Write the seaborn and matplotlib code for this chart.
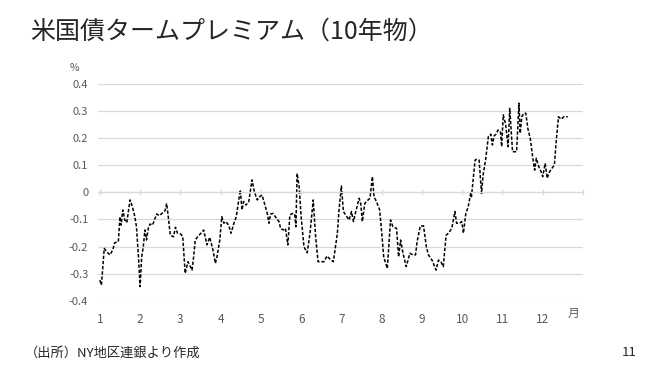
import matplotlib
matplotlib.use("Agg")
import matplotlib.pyplot as plt
import seaborn as sns
import pandas as pd

# ---- data ----
x_month = [
    1.00, 1.04, 1.11, 1.17, 1.25, 1.32, 1.37, 1.46, 1.50, 1.53, 1.57, 1.62, 1.67, 1.75, 1.81, 1.87,
    1.91, 1.96, 2.00, 2.04, 2.08, 2.12, 2.16, 2.21, 2.25, 2.31, 2.41, 2.48, 2.54, 2.62, 2.66, 2.70,
    2.75, 2.83, 2.88, 2.93, 3.01, 3.06, 3.12, 3.19, 3.29, 3.33, 3.37, 3.43, 3.51, 3.58, 3.66, 3.73,
    3.81, 3.87, 3.91, 3.98, 4.03, 4.08, 4.13, 4.20, 4.26, 4.33, 4.39, 4.45, 4.49, 4.53, 4.57, 4.63,
    4.70, 4.78, 4.84, 4.91, 4.97, 5.03, 5.09, 5.16, 5.20, 5.24, 5.30, 5.36, 5.45, 5.49, 5.56, 5.61,
    5.67, 5.72, 5.78, 5.84, 5.87, 5.90, 5.95, 6.00, 6.07, 6.15, 6.22, 6.30, 6.36, 6.42,
    6.49, 6.57, 6.64, 6.72, 6.80, 6.86, 6.90, 6.94, 7.00, 7.05, 7.11, 7.19, 7.25, 7.30, 7.35, 7.44,
    7.48, 7.52, 7.58, 7.64, 7.71, 7.77, 7.81, 7.87, 7.95, 8.01, 8.05, 8.14, 8.22, 8.28, 8.37, 8.42,
    8.47, 8.53, 8.61, 8.70, 8.78, 8.84, 8.88, 8.96, 9.04, 9.11, 9.16, 9.25, 9.35, 9.41, 9.47, 9.53,
    9.60, 9.66, 9.74, 9.82, 9.86, 9.93, 9.99, 10.03, 10.09, 10.15, 10.21, 10.23, 10.28, 10.32, 10.36, 10.42,
    10.48, 10.52, 10.58, 10.65, 10.71, 10.75, 10.79, 10.84, 10.89, 10.95, 10.98, 11.02, 11.08, 11.14, 11.18, 11.25,
    11.35, 11.41, 11.44, 11.48, 11.53, 11.58, 11.63, 11.69, 11.76, 11.80, 11.84, 11.90, 11.96, 12.00, 12.06, 12.11,
    12.17, 12.23, 12.29, 12.33, 12.39, 12.46, 12.52, 12.62,
]
term_premium = [
    -0.324, -0.342, -0.207, -0.219, -0.231, -0.213, -0.186, -0.182, -0.090, -0.121, -0.065, -0.102, -0.112, -0.028, -0.053, -0.090,
    -0.127, -0.238, -0.348, -0.238, -0.201, -0.139, -0.176, -0.127, -0.117, -0.121, -0.080, -0.086, -0.078, -0.068, -0.041, -0.090,
    -0.158, -0.164, -0.129, -0.151, -0.154, -0.164, -0.299, -0.256, -0.287, -0.238, -0.176, -0.164, -0.151, -0.139, -0.194, -0.166,
    -0.213, -0.262, -0.238, -0.176, -0.090, -0.114, -0.108, -0.121, -0.151, -0.114, -0.090, -0.028, 0.009, -0.065, -0.034, -0.047,
    -0.034, 0.046, 0.002, -0.028, -0.016, -0.010, -0.041, -0.078, -0.114, -0.080, -0.078, -0.090, -0.108, -0.133, -0.139, -0.133,
    -0.194, -0.084, -0.078, -0.080, -0.127, 0.070, 0.021, -0.090, -0.201, -0.223, -0.151, -0.028, -0.164, -0.256,
    -0.256, -0.256, -0.235, -0.247, -0.256, -0.194, -0.151, -0.065, 0.023, -0.071, -0.084, -0.102, -0.071, -0.108, -0.075, -0.022,
    -0.041, -0.108, -0.041, -0.031, -0.022, 0.058, -0.016, -0.034, -0.065, -0.164, -0.238, -0.281, -0.102, -0.127, -0.133, -0.238,
    -0.176, -0.225, -0.274, -0.225, -0.231, -0.231, -0.182, -0.124, -0.124, -0.201, -0.231, -0.250, -0.287, -0.250, -0.256, -0.274,
    -0.158, -0.151, -0.133, -0.071, -0.114, -0.114, -0.108, -0.151, -0.078, -0.053, -0.004, -0.016, 0.058, 0.119, 0.122, 0.119,
    -0.004, 0.064, 0.119, 0.206, 0.215, 0.175, 0.208, 0.215, 0.230, 0.224, 0.169, 0.286, 0.249, 0.169, 0.310, 0.150,
    0.150, 0.329, 0.218, 0.279, 0.292, 0.292, 0.236, 0.199, 0.119, 0.082, 0.126, 0.095, 0.076, 0.058, 0.107, 0.052,
    0.076, 0.089, 0.101, 0.181, 0.279, 0.270, 0.279, 0.279,
]
month_ticks = [1, 2, 3, 4, 5, 6, 7, 8, 9, 10, 11, 12]
month_labels = ["1", "2", "3", "4", "5", "6", "7", "8", "9", "10", "11", "12"]
y_ticks = [0.4, 0.3, 0.2, 0.1, 0.0, -0.1, -0.2, -0.3, -0.4]
y_labels = ["0.4", "0.3", "0.2", "0.1", "0", "-0.1", "-0.2", "-0.3", "-0.4"]

title = "米国債タームプレミアム（10年物）"
source = "（出所）NY地区連銀より作成"
page_no = "11"

df = pd.DataFrame({"month": x_month, "value": term_premium})

sns.set_theme(style="white")
plt.rcParams["font.family"] = ["Noto Sans CJK JP", "DejaVu Sans"]

fig = plt.figure(figsize=(6.6, 3.71), dpi=100)
ax = fig.add_axes([98 / 660, 1 - 300.7 / 371, (583 - 98) / 660, (300.7 - 84) / 371])

grid_c = "#d9d9d9"
lab_c = "#595959"

sns.lineplot(data=df, x="month", y="value", ax=ax, color="black",
             linewidth=1.1, linestyle=(0, (2.2, 1.2)), sort=False, estimator=None)

ax.set_xlim(0.955, 13.0)
ax.set_ylim(-0.4, 0.4)
ax.set_xlabel("")
ax.set_ylabel("")

for yv in y_ticks:
    ax.axhline(yv, color=grid_c, linewidth=0.9, zorder=0)

ax.set_yticks(y_ticks)
ax.set_yticklabels(y_labels)
ax.tick_params(axis="y", length=0, pad=7, labelsize=8, labelcolor=lab_c)

for s in ["top", "right", "left"]:
    ax.spines[s].set_visible(False)
ax.spines["bottom"].set_position(("data", 0))
ax.spines["bottom"].set_color(grid_c)
ax.spines["bottom"].set_linewidth(0.9)
ax.set_xticks(month_ticks + [13])
ax.tick_params(axis="x", direction="inout", length=5, width=0.9, color=grid_c,
               labelbottom=False, bottom=True)

sec = ax.secondary_xaxis(0.0)
sec.set_xticks(month_ticks)
sec.set_xticklabels(month_labels)
sec.tick_params(axis="x", length=0, pad=9, labelsize=8.5, labelcolor=lab_c)
sec.spines["bottom"].set_visible(False)

fig.text(30 / 660, 1 - 32 / 371, title, fontsize=18, color="#262626",
         ha="left", va="center")
fig.text(74 / 660, 1 - 68 / 371, "%", fontsize=7.5, color=lab_c, ha="center", va="center")
fig.text(573 / 660, 1 - 313 / 371, "月", fontsize=8.5, color=lab_c, ha="center", va="center")
fig.text(25 / 660, 1 - 353 / 371, source, fontsize=9.5, color="#262626", ha="left", va="center")
fig.text(637 / 660, 1 - 353 / 371, page_no, fontsize=9.5, color="#262626", ha="right", va="center")

fig.savefig("out.png", dpi=100, facecolor="white")
